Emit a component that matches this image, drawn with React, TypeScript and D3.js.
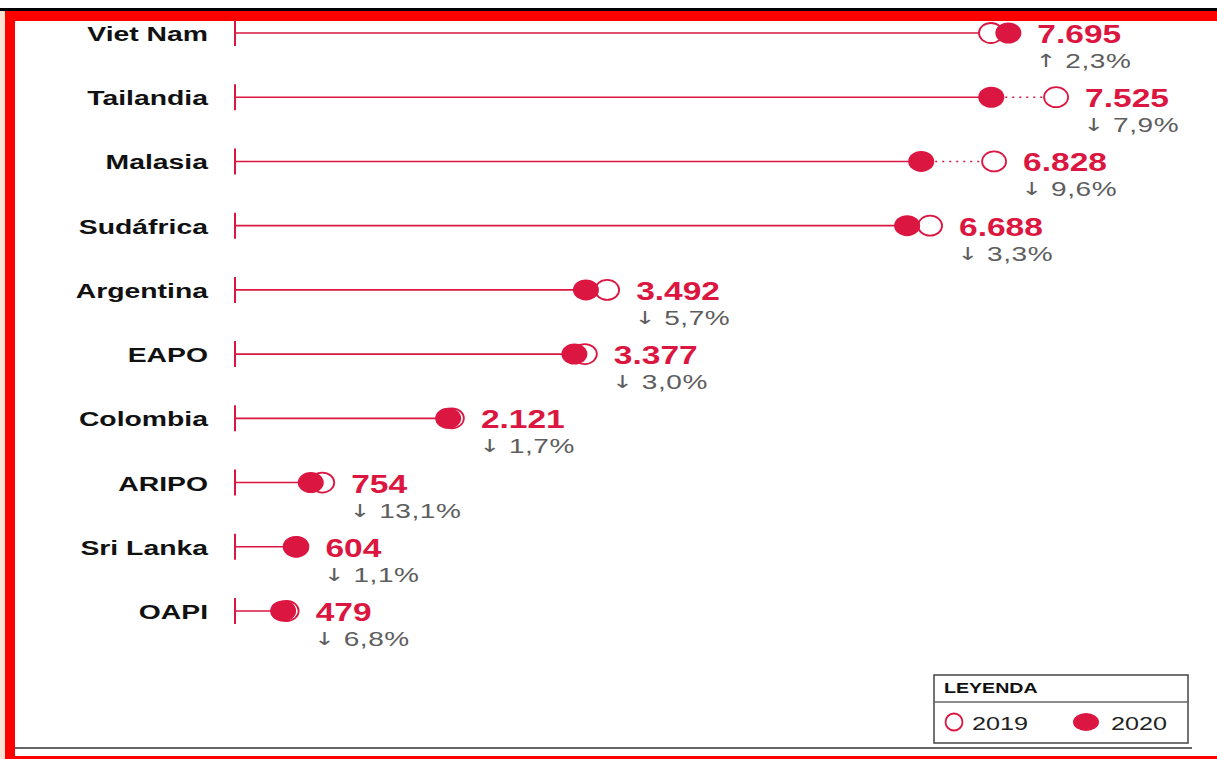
import React from "react";
import * as d3 from "d3";

const categories = ["Viet Nam", "Tailandia", "Malasia", "Sudáfrica", "Argentina", "EAPO", "Colombia", "ARIPO", "Sri Lanka", "OAPI"];
const values2020 = [7695, 7525, 6828, 6688, 3492, 3377, 2121, 754, 604, 479];
const values2019 = [7522, 8170, 7553, 6916, 3703, 3481, 2158, 868, 611, 514];
const changePct = [2.3, -7.9, -9.6, -3.3, -5.7, -3.0, -1.7, -13.1, -1.1, -6.8];
const legendTitle = "LEYENDA";
const legendLabels = ["2019", "2020"];

const RED = "#db1640";
const W = 1217;
const H = 759;

const locale = d3.formatLocale({ decimal: ",", thousands: ".", grouping: [3], currency: ["", ""] });
const fmtInt = locale.format(",d");
const fmtPct = locale.format(".1f");

export default function App() {
  const x = d3.scaleLinear().domain([0, 8000]).range([235, 1039]);
  const y = d3.scalePoint<string>().domain(categories).range([33, 611]);
  const rx = 13;
  const ry = 10.5;
  const font = "'Liberation Sans', Arial, Helvetica, sans-serif";

  return (
    <svg width={W} height={H} style={{ position: "absolute", left: 0, top: 0, background: "#fff" }} fontFamily={font}>
      {/* frame */}
      <rect x={0} y={11} width={5} height={H - 11} fill="#fde3d3" />
      <rect x={5} y={11} width={W - 5} height={10} fill="#ff0000" />
      <rect x={5} y={11} width={10} height={H - 11} fill="#ff0000" />
      <rect x={5} y={756} width={W - 5} height={3} fill="#ff0000" />
      <rect x={0} y={8} width={W} height={3} fill="#000" />
      <line x1={15} x2={1192} y1={748} y2={748} stroke="#333" strokeWidth={1.5} />

      {categories.map((c, i) => {
        const cy = y(c) as number;
        const x20 = x(values2020[i]);
        const x19 = x(values2019[i]);
        const labelX = Math.max(x20, x19) + rx + 16;
        const p = changePct[i];
        const arrow = p >= 0 ? "↑" : "↓";
        return (
          <g key={c}>
            <text
              transform={`translate(208,${cy + 8}) scale(1.35,1)`}
              textAnchor="end"
              fontSize={21}
              fontWeight="bold"
              fill="#111"
            >
              {c}
            </text>
            <line x1={x(0)} x2={x(0)} y1={cy - 13} y2={cy + 13} stroke={RED} strokeWidth={2} />
            <line x1={x(0)} x2={x20} y1={cy} y2={cy} stroke={RED} strokeWidth={1.6} />
            {values2019[i] > values2020[i] && (
              <line x1={x20} x2={x19} y1={cy} y2={cy} stroke={RED} strokeWidth={1.6} strokeDasharray="2 5" />
            )}
            <ellipse cx={x19} cy={cy} rx={rx - 1} ry={ry - 0.5} fill="#fff" stroke={RED} strokeWidth={1.8} />
            <ellipse cx={x20} cy={cy} rx={rx} ry={ry} fill={RED} />
            <text
              transform={`translate(${labelX},${cy + 10}) scale(1.34,1)`}
              fontSize={25}
              fontWeight="bold"
              fill={RED}
            >
              {fmtInt(values2020[i])}
            </text>
            <text
              transform={`translate(${labelX - 2},${cy + 35}) scale(1.4,1)`}
              fontSize={20}
              fill="#5e5e5e"
              letterSpacing={0.4}
            >
              <tspan fontFamily="'DejaVu Sans'" fontSize={18} dy={-1}>{arrow}</tspan>
              <tspan dy={1}>{` ${fmtPct(Math.abs(p))}%`}</tspan>
            </text>
          </g>
        );
      })}

      {/* legend */}
      <rect x={934} y={675} width={254} height={68} fill="#fff" stroke="#444" strokeWidth={1.5} />
      <line x1={934} x2={1188} y1={702} y2={702} stroke="#666" strokeWidth={1.5} />
      <text transform="translate(944,693) scale(1.4,1)" fontSize={14} fontWeight="bold" fill="#111">
        {legendTitle}
      </text>
      <ellipse cx={954} cy={722} rx={8.5} ry={8.5} fill="#fff" stroke={RED} strokeWidth={1.8} />
      <text transform="translate(972,730) scale(1.4,1)" fontSize={18} fill="#222">
        {legendLabels[0]}
      </text>
      <ellipse cx={1086} cy={722} rx={13} ry={9} fill={RED} />
      <text transform="translate(1111,730) scale(1.4,1)" fontSize={18} fill="#222">
        {legendLabels[1]}
      </text>
    </svg>
  );
}
